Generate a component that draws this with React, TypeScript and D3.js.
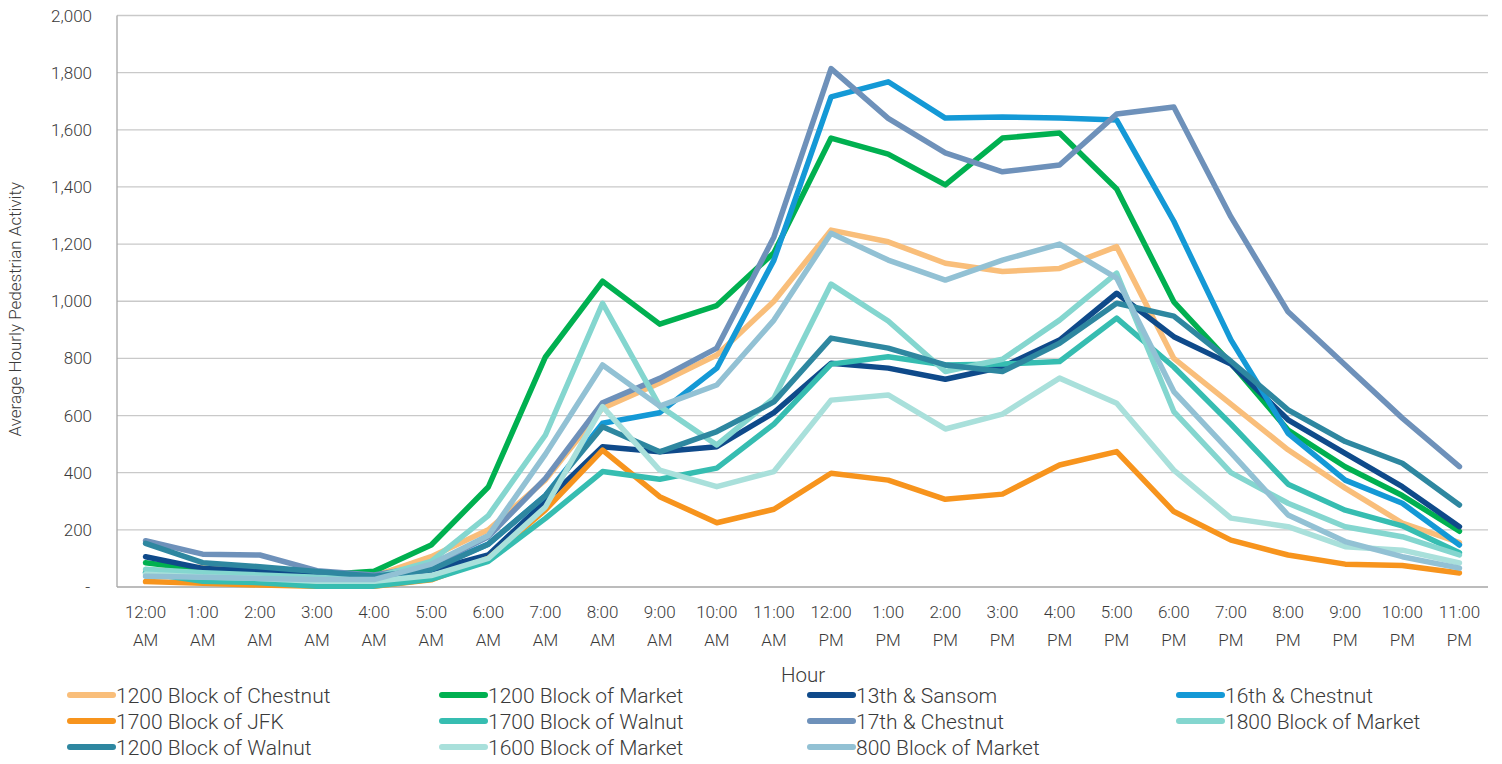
import React, { useEffect, useRef } from "react";
import * as d3 from "d3";

const hours = [
  "12:00 AM", "1:00 AM", "2:00 AM", "3:00 AM", "4:00 AM", "5:00 AM",
  "6:00 AM", "7:00 AM", "8:00 AM", "9:00 AM", "10:00 AM", "11:00 AM",
  "12:00 PM", "1:00 PM", "2:00 PM", "3:00 PM", "4:00 PM", "5:00 PM",
  "6:00 PM", "7:00 PM", "8:00 PM", "9:00 PM", "10:00 PM", "11:00 PM",
];

const yTicks = [0, 200, 400, 600, 800, 1000, 1200, 1400, 1600, 1800, 2000];

const chestnut1200 = [55, 70, 62, 47, 38, 106, 200, 375, 626, 714, 812, 1000, 1249, 1208, 1133, 1104, 1115, 1191, 800, 640, 480, 346, 224, 155];
const market1200 = [85, 60, 50, 42, 55, 147, 350, 805, 1070, 920, 985, 1170, 1571, 1515, 1407, 1571, 1589, 1393, 998, 783, 549, 421, 320, 195];
const sansom13th = [106, 65, 57, 49, 38, 59, 112, 300, 491, 473, 491, 610, 783, 766, 727, 770, 864, 1028, 876, 780, 585, 468, 351, 211];
const chestnut16th = [50, 40, 35, 30, 30, 65, 150, 320, 573, 610, 766, 1144, 1715, 1768, 1641, 1645, 1641, 1634, 1280, 865, 538, 374, 293, 147];
const jfk1700 = [19, 13, 7, 3, 3, 25, 100, 270, 479, 316, 225, 272, 398, 374, 307, 325, 427, 474, 264, 164, 112, 80, 75, 49];
const walnut1700 = [50, 20, 15, 3, 3, 27, 90, 240, 404, 377, 416, 570, 780, 806, 777, 780, 789, 941, 770, 570, 360, 269, 214, 120];
const chestnut17th = [162, 115, 112, 57, 42, 75, 176, 380, 645, 730, 836, 1225, 1814, 1640, 1519, 1453, 1477, 1655, 1680, 1295, 963, 777, 591, 421];
const market1800 = [62, 50, 42, 34, 34, 90, 250, 532, 993, 633, 497, 661, 1060, 931, 754, 797, 934, 1098, 614, 400, 293, 211, 176, 112];
const walnut1200 = [153, 85, 71, 54, 38, 60, 150, 320, 561, 473, 544, 648, 871, 836, 777, 754, 853, 993, 948, 790, 620, 509, 433, 287];
const market1600 = [45, 35, 30, 20, 20, 40, 100, 280, 631, 409, 351, 404, 654, 672, 553, 605, 731, 643, 409, 241, 211, 141, 129, 84];
const market800 = [38, 34, 30, 26, 26, 80, 180, 465, 777, 633, 707, 934, 1238, 1144, 1074, 1144, 1200, 1081, 684, 470, 252, 159, 106, 66];

const seriesNames = [
  "1200 Block of Chestnut", "1200 Block of Market", "13th & Sansom", "16th & Chestnut",
  "1700 Block of JFK", "1700 Block of Walnut", "17th & Chestnut", "1800 Block of Market",
  "1200 Block of Walnut", "1600 Block of Market", "800 Block of Market",
];
const seriesValues = [
  chestnut1200, market1200, sansom13th, chestnut16th,
  jfk1700, walnut1700, chestnut17th, market1800,
  walnut1200, market1600, market800,
];
const seriesColors = [
  "#F9BE7A", "#00B050", "#0F4A8A", "#1499D6",
  "#F7941D", "#36BDB1", "#6E91BA", "#84D6CF",
  "#2E87A0", "#A9E0DB", "#92C1D4",
];

const W = 1502;
const H = 764;
const left = 117;
const right = 1488;
const top = 15.5;
const bottom = 587;
const font = "Roboto, 'Open Sans', sans-serif";
const textColor = "#3A3A3A";

export default function App() {
  const ref = useRef<SVGSVGElement>(null);

  useEffect(() => {
    const svg = d3.select(ref.current);
    svg.selectAll("*").remove();

    const x = d3.scaleBand<string>().domain(hours).range([left, right]).padding(0);
    const y = d3.scaleLinear().domain([0, 2000]).range([bottom, top]);
    const cx = (h: string) => (x(h) as number) + x.bandwidth() / 2;
    const fmt = d3.format(",");

    // gridlines
    svg.append("g")
      .selectAll("line")
      .data(yTicks.filter((t) => t > 0))
      .enter()
      .append("line")
      .attr("x1", left)
      .attr("x2", right)
      .attr("y1", (d) => y(d))
      .attr("y2", (d) => y(d))
      .attr("stroke", "#C9C9C9")
      .attr("stroke-width", 1.3);

    // axes lines
    svg.append("line")
      .attr("x1", left).attr("x2", left)
      .attr("y1", top).attr("y2", bottom)
      .attr("stroke", "#A6A6A6").attr("stroke-width", 1.3);
    svg.append("line")
      .attr("x1", left).attr("x2", right)
      .attr("y1", bottom).attr("y2", bottom)
      .attr("stroke", "#A6A6A6").attr("stroke-width", 1.3);

    // y tick labels
    svg.append("g")
      .selectAll("text")
      .data(yTicks)
      .enter()
      .append("text")
      .attr("x", (d) => (d === 0 ? 90 : 92))
      .attr("y", (d) => y(d) + 6)
      .attr("text-anchor", "end")
      .attr("font-family", font)
      .attr("font-weight", 300)
      .attr("font-size", 17)
      .attr("fill", textColor)
      .text((d) => (d === 0 ? "-" : fmt(d)));

    // x tick labels (two lines)
    const xl = svg.append("g")
      .selectAll("text")
      .data(hours)
      .enter()
      .append("text")
      .attr("text-anchor", "middle")
      .attr("font-family", font)
      .attr("font-weight", 300)
      .attr("font-size", 17)
      .attr("fill", textColor);
    xl.append("tspan")
      .attr("x", (d) => cx(d))
      .attr("y", 618)
      .text((d) => d.split(" ")[0]);
    xl.append("tspan")
      .attr("x", (d) => cx(d))
      .attr("y", 646)
      .text((d) => d.split(" ")[1]);

    // axis titles
    svg.append("text")
      .attr("transform", `translate(21, ${(top + bottom) / 2 + 8}) rotate(-90)`)
      .attr("text-anchor", "middle")
      .attr("font-family", font)
      .attr("font-weight", 300)
      .attr("font-size", 17)
      .attr("fill", textColor)
      .text("Average Hourly Pedestrian Activity");
    svg.append("text")
      .attr("x", 803)
      .attr("y", 682)
      .attr("text-anchor", "middle")
      .attr("font-family", font)
      .attr("font-weight", 300)
      .attr("font-size", 20.5)
      .attr("fill", textColor)
      .text("Hour");

    // lines
    const line = d3.line<number>()
      .x((_, i) => cx(hours[i]))
      .y((d) => y(d));

    svg.append("g")
      .selectAll("path")
      .data(seriesValues)
      .enter()
      .append("path")
      .attr("d", (d) => line(d))
      .attr("fill", "none")
      .attr("stroke", (_, i) => seriesColors[i])
      .attr("stroke-width", 5.5)
      .attr("stroke-linejoin", "round")
      .attr("stroke-linecap", "round");

    // legend
    const colX = [68, 440, 808, 1177];
    const rowY = [695, 721, 747];
    const lg = svg.append("g")
      .selectAll("g")
      .data(seriesNames)
      .enter()
      .append("g")
      .attr("transform", (_, i) => `translate(${colX[i % 4]}, ${rowY[Math.floor(i / 4)]})`);
    lg.append("line")
      .attr("x1", 2).attr("x2", 45)
      .attr("y1", 0).attr("y2", 0)
      .attr("stroke", (_, i) => seriesColors[i])
      .attr("stroke-width", 6)
      .attr("stroke-linecap", "round");
    lg.append("text")
      .attr("x", 48)
      .attr("y", 7.5)
      .attr("font-family", font)
      .attr("font-weight", 300)
      .attr("font-size", 21)
      .attr("fill", textColor)
      .text((d) => d);
  }, []);

  return (
    <svg
      ref={ref}
      width={W}
      height={H}
      style={{ position: "absolute", left: 0, top: 0, background: "#fff" }}
    />
  );
}
